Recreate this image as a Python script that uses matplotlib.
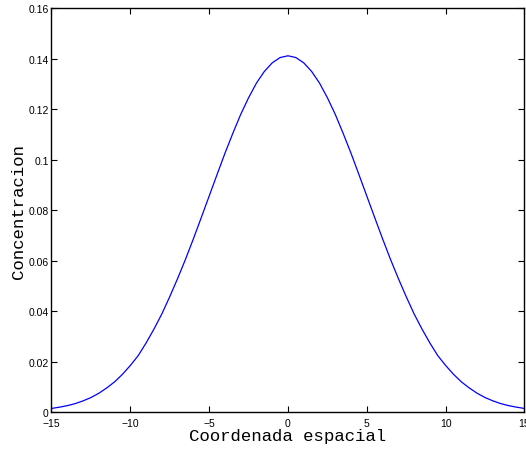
import matplotlib
matplotlib.use("Agg")
import matplotlib.pyplot as plt
import numpy as np

# ------------------------------------------------------------------
#  DATA
# ------------------------------------------------------------------
x_half = [0.0, 0.5, 1.0, 1.5, 2.0, 2.5, 3.0, 3.5, 4.0, 4.5, 5.0,
          5.5, 6.0, 6.5, 7.0, 7.5, 8.0, 8.5, 9.0, 9.5, 10.0,
          10.5, 11.0, 11.5, 12.0, 12.5, 13.0, 13.5, 14.0, 14.5, 15.0]
c_half = [0.1411, 0.1404, 0.1383, 0.1349, 0.1303, 0.1245, 0.1179, 0.1104,
          0.1025, 0.0941, 0.0856, 0.0771, 0.0687, 0.0606, 0.0530, 0.0458,
          0.0390, 0.0330, 0.0275, 0.0225, 0.0186, 0.0151, 0.0121, 0.0097,
          0.0076, 0.0059, 0.0046, 0.0035, 0.0027, 0.0021, 0.0016]

# the curve is symmetric about x = 0
x_vals = [-v for v in x_half[:0:-1]] + x_half
conc = c_half[:0:-1] + c_half

x_ticks = [-15, -10, -5, 0, 5, 10, 15]
y_ticks = [0, 0.02, 0.04, 0.06, 0.08, 0.1, 0.12, 0.14, 0.16]
y_tick_labels = ['0', '0.02', '0.04', '0.06', '0.08', '0.1', '0.12', '0.14', '0.16']

# ------------------------------------------------------------------
#  PLOT
# ------------------------------------------------------------------
fig = plt.figure(figsize=(5.26, 4.52), dpi=100)
ax = fig.add_axes([0.0979, 0.0852, 0.8992, 0.8949])

ax.plot(x_vals, conc, color='#0000ff', linewidth=0.9, solid_joinstyle='round')

ax.set_xlim(-15, 15)
ax.set_ylim(0, 0.16)
ax.set_xticks(x_ticks)
ax.set_yticks(y_ticks)
ax.set_yticklabels(y_tick_labels)

for lbl in ax.get_xticklabels() + ax.get_yticklabels():
    lbl.set_fontfamily('Liberation Sans')
    lbl.set_fontsize(7.5)

ax.tick_params(direction='in', length=4, width=0.8, top=True, right=True, pad=2)
ax.tick_params(axis='x', pad=4)
for sp in ax.spines.values():
    sp.set_linewidth(1.0)

ax.set_xlabel('Coordenada espacial', family='Liberation Mono', fontsize=12.5, labelpad=0)
ax.set_ylabel('Concentracion', family='Liberation Mono', fontsize=12.5, labelpad=2)

fig.savefig('out.png', dpi=100)
